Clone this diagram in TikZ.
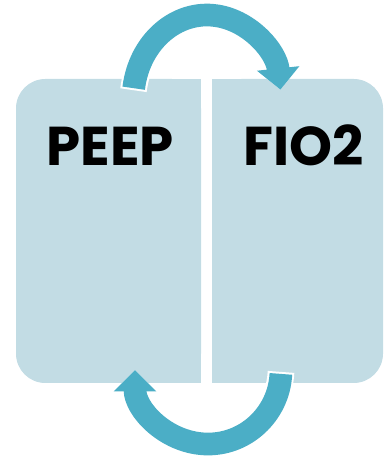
\documentclass[tikz,border=0pt]{standalone}
\usepackage{fontspec}
\setmainfont{Poppins}
\usepackage{xcolor}
\usetikzlibrary{arrows.meta, positioning, calc}

\definecolor{panelblue}{HTML}{C2DCE4}
\definecolor{arrowteal}{HTML}{4BAEC6}

\begin{document}
\begin{tikzpicture}[
        x=0.75pt, y=0.75pt,
        panel/.style={fill=panelblue, rectangle, rounded corners=22pt, inner sep=0pt, outer sep=0pt, minimum height=228pt},
        lbl/.style={font=\fontsize{41}{41}\selectfont\bfseries, text=black, anchor=base, inner sep=0pt},
        cycle/.style={arrowteal, line width=17pt, line cap=butt, -{Triangle[width=31pt, length=16pt]},
            preaction={draw=white, line width=20pt, shorten <=-1.5pt, -{Triangle[width=35pt, length=18pt]}}}
    ]
        \useasboundingbox (0,0) rectangle (383,457);

        % panels
        \node[panel, minimum width=138.75pt] (peep) at (108.5, 226) {};
        \node[panel, minimum width=128.25pt] (fio2) at (297.5, 226) {};
        \fill[panelblue] (peep.north) rectangle (peep.south east);
        \fill[panelblue] (fio2.north west) rectangle (fio2.south);

        \node[lbl] (peeptxt) at (110, 291) {PEEP};
        \node[lbl] (fio2txt) at (304, 291) {FIO2};

        % arrows
        \draw[cycle] ([shift={(25.2,-9.2)}]peep.north) arc[start angle=172, end angle=7, x radius=74, y radius=85];
        \draw[cycle] ([shift={(-16.6,9.1)}]fio2.south) arc[start angle=-3, end angle=-180, x radius=73, y radius=74];
    \end{tikzpicture}
\end{document}
